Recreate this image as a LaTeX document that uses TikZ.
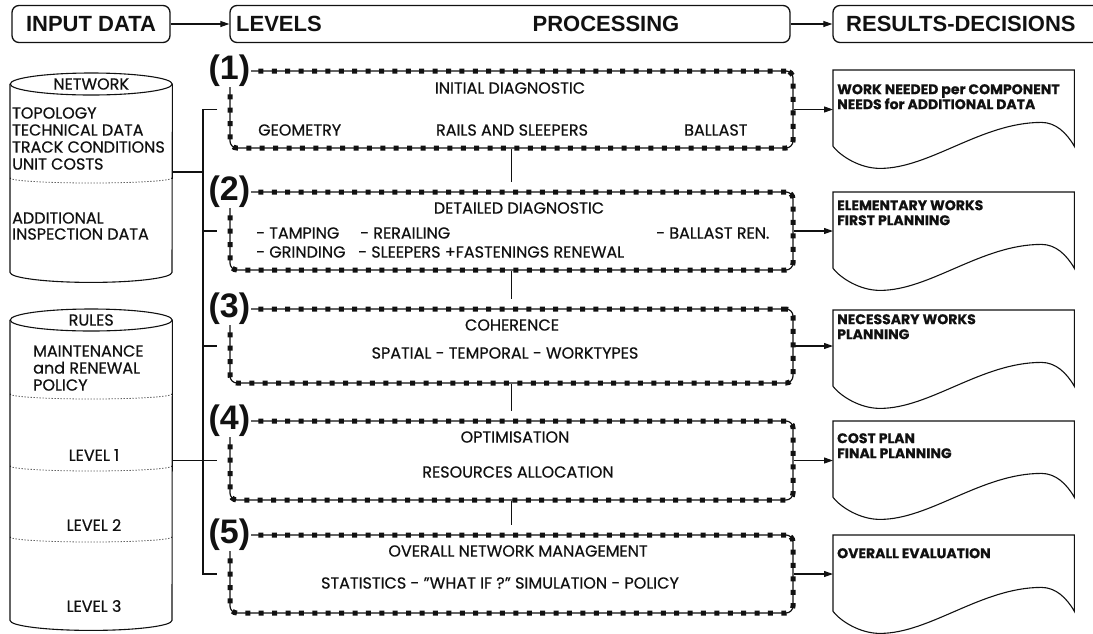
\documentclass[tikz,border=0pt]{standalone}
\usepackage{fontspec}
\setmainfont{Poppins}[FakeBold=0.6]
\newfontfamily\hdfont{Liberation Sans}
\usetikzlibrary{arrows.meta,positioning,calc}
\definecolor{ink}{HTML}{111111}
\tikzset{
  hdbox/.style={draw=ink, line width=1.3pt, rounded corners=7pt, minimum height=37pt, inner sep=0pt},
  hdtxt/.style={font=\hdfont\bfseries\fontsize{22}{24}\selectfont, text=ink, inner sep=0pt},
  lvlbox/.style={draw=ink, line width=1.2pt, rounded corners=7pt, inner sep=0pt, minimum width=563pt,
    postaction={draw=ink, line width=5pt, dash pattern=on 5pt off 8.4pt}},
  lvlnum/.style={fill=white, inner sep=1pt, font=\hdfont\bfseries\fontsize{34}{36}\selectfont, text=ink},
  txt/.style={font=\fontsize{16}{17}\selectfont, text=ink, inner sep=0pt},
  doctxt/.style={font=\bfseries\fontsize{14}{15}\selectfont, text=ink, inner sep=0pt, align=left, anchor=north west},
  docbox/.style={minimum width=241pt, minimum height=76pt, inner sep=0pt, anchor=north west},
  doc/.style={draw=ink, line width=1.1pt},
  cylbox/.style={minimum width=162pt, inner sep=0pt, anchor=north west},
  cyl/.style={draw=ink, line width=1.1pt},
  sep/.style={draw=ink, line width=0.8pt, dash pattern=on 1pt off 2pt},
  ln/.style={draw=ink, line width=1.1pt},
  arr/.style={-{Triangle[length=9pt,width=6pt]}, line width=1.1pt, draw=ink},
}

\begin{document}
\begin{tikzpicture}[x=1pt, y=-1pt]
  \useasboundingbox (0,0) rectangle (1093,633);

  % header row
  \node[hdbox, minimum width=158pt] (inp) at (91,24) {};
  \node[hdtxt] (inpT) at (inp) {INPUT DATA};
  \node[hdbox, minimum width=560pt] (proc) at (510,24) {};
  \node[hdtxt, anchor=west] (lvlT) at (236,24) {LEVELS};
  \node[hdtxt] (procT) at (606,24) {PROCESSING};
  \node[hdbox, minimum width=280pt] (res) at (973,24) {};
  \node[hdtxt, anchor=west] (resT) at (846,24) {RESULTS-DECISIONS};
  \draw[arr] (inp) -- (proc);
  \draw[arr] (proc) -- (res);

  % processing levels
  \node[lvlbox, minimum height=77pt] (b1) at (511.5,109.5) {};
  \node[lvlbox, minimum height=78pt] (b2) at (511.5,231) {};
  \node[lvlbox, minimum height=74pt] (b3) at (511.5,346) {};
  \node[lvlbox, minimum height=79pt] (b4) at (511.5,460.5) {};
  \node[lvlbox, minimum height=78pt] (b5) at (511.5,574) {};
  \foreach \i in {1,...,5}
    \node[lvlnum] (n\i) at (b\i.north west) {(\i)};

  \node[txt] (t1a) at (510,88) {INITIAL DIAGNOSTIC};
  \node[txt, anchor=west] (t1b) at (258,130) {GEOMETRY};
  \node[txt] (t1c) at (512,130) {RAILS AND SLEEPERS};
  \node[txt, anchor=west] (t1d) at (684,130) {BALLAST};

  \node[txt] (t2a) at (519,208) {DETAILED DIAGNOSTIC};
  \node[txt, anchor=west] (t2b) at (256,233) {- TAMPING};
  \node[txt, anchor=west] (t2c) at (360,233) {- RERAILING};
  \node[txt, anchor=west] (t2d) at (656,233) {- BALLAST REN.};
  \node[txt, anchor=west] (t2e) at (256,252) {- GRINDING};
  \node[txt, anchor=west] (t2f) at (358,252) {- SLEEPERS +FASTENINGS RENEWAL};

  \node[txt] (t3a) at (512,325) {COHERENCE};
  \node[txt] (t3b) at (505,353) {SPATIAL - TEMPORAL - WORKTYPES};

  \node[txt] (t4a) at (515,437) {OPTIMISATION};
  \node[txt] (t4b) at (518,472) {RESOURCES ALLOCATION};

  \node[txt] (t5a) at (518,551) {OVERALL NETWORK MANAGEMENT};
  \node[txt] (t5b) at (500,583) {STATISTICS - "WHAT IF ?" SIMULATION - POLICY};

  \foreach \i/\j in {1/2,2/3,3/4,4/5}
    \draw[ln, shorten >=9pt] (b\i.south) -- (b\j.north);

  % results documents
  \node[docbox] (d1) at (833,70) {};
  \node[docbox] (d2) at (833,192) {};
  \node[docbox] (d3) at (833,310) {};
  \node[docbox] (d4) at (833,421) {};
  \node[docbox] (d5) at (833,535) {};
  \foreach \i in {1,...,5} {
    \draw[doc] (d\i.south west) -- (d\i.north west) -- (d\i.north east) -- (d\i.south east)
      .. controls +(-8,-14) and +(14,0) .. ++(-33,-24)
      .. controls +(-60,0) and +(50,0) .. ($(d\i.south west)+(47,22)$)
      .. controls +(-20,0) and +(8,10) .. (d\i.south west);
    \draw[arr] (b\i.east) -- (b\i.east -| d\i.west);
  }
  \node[doctxt] (r1) at (837,84) {WORK NEEDED per COMPONENT\\NEEDS for ADDITIONAL DATA};
  \node[doctxt] (r2) at (837,200) {ELEMENTARY WORKS\\FIRST PLANNING};
  \node[doctxt] (r3) at (837,314) {NECESSARY WORKS\\PLANNING};
  \node[doctxt] (r4) at (837,433) {COST PLAN\\FINAL PLANNING};
  \node[doctxt] (r5) at (837,548) {OVERALL EVALUATION};

  % input data stores
  \node[cylbox, minimum height=188pt] (net) at (10,84) {};
  \draw[cyl] (net.north west) -- (net.south west)
    arc[start angle=180, end angle=0, x radius=81, y radius=10] -- (net.north east);
  \draw[cyl, fill=white] (net.north) ellipse[x radius=81, y radius=11];
  \draw[sep] (10,178) arc[start angle=180, end angle=0, x radius=81, y radius=5];
  \node[txt] (netT) at (net.north) {NETWORK};
  \node[txt, anchor=west] (nt1) at (12,113) {TOPOLOGY};
  \node[txt, anchor=west] (nt2) at (12,130) {TECHNICAL DATA};
  \node[txt, anchor=west] (nt3) at (12,147) {TRACK CONDITIONS};
  \node[txt, anchor=west] (nt4) at (12,164) {UNIT COSTS};
  \node[txt, anchor=west] (nt5) at (12,218) {ADDITIONAL};
  \node[txt, anchor=west] (nt6) at (12,234) {INSPECTION DATA};

  \node[cylbox, minimum height=300pt] (rul) at (10,320) {};
  \draw[cyl] (rul.north west) -- (rul.south west)
    arc[start angle=180, end angle=0, x radius=81, y radius=10] -- (rul.north east);
  \draw[cyl, fill=white] (rul.north) ellipse[x radius=81, y radius=11];
  \foreach \y in {394,466,537}
    \draw[sep] (10,\y) arc[start angle=180, end angle=0, x radius=81, y radius=5];
  \node[txt] (rulT) at (rul.north) {RULES};
  \node[txt, anchor=west, align=left] (rl1) at (33,368) {MAINTENANCE\\and RENEWAL\\POLICY};
  \node[txt] (rl2) at (94,455) {LEVEL 1};
  \node[txt] (rl3) at (94,525) {LEVEL 2};
  \node[txt] (rl4) at (94,606) {LEVEL 3};

  % links to the levels
  \coordinate (bus) at (203,0);
  \coordinate (netlink) at (172,172);
  \draw[ln] ([xshift=-12pt]b1.west) -| (bus |- b5.west) -- ([xshift=-12pt]b5.west);
  \foreach \i in {2,3,4}
    \draw[ln] (bus |- b\i.west) -- ([xshift=-12pt]b\i.west);
  \draw[ln] (netlink) -- (bus |- netlink);
  \draw[ln] (rul.east |- b4.west) -- (bus |- b4.west);
\end{tikzpicture}
\end{document}
